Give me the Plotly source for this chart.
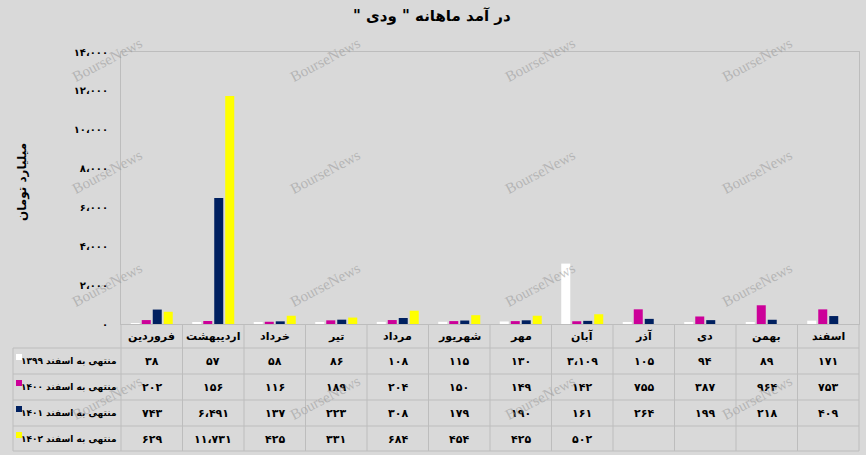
import plotly.graph_objects as go

# ---------------- data ----------------
months = ["فروردین", "اردیبهشت", "خرداد", "تیر", "مرداد", "شهریور",
          "مهر", "آبان", "آذر", "دی", "بهمن", "اسفند"]
s1399 = [38, 57, 58, 86, 108, 115, 130, 3109, 105, 94, 89, 171]
s1400 = [202, 156, 116, 189, 204, 150, 149, 142, 755, 387, 964, 753]
s1401 = [743, 6491, 137, 223, 308, 179, 190, 161, 264, 199, 218, 409]
s1402 = [629, 11731, 425, 331, 684, 454, 425, 502, None, None, None, None]
series_names = ["منتهی به اسفند ۱۳۹۹", "منتهی به اسفند ۱۴۰۰",
                "منتهی به اسفند ۱۴۰۱", "منتهی به اسفند ۱۴۰۲"]
series_colors = ["#FFFFFF", "#CC0099", "#002060", "#FFFF00"]
y_ticks = [0, 2000, 4000, 6000, 8000, 10000, 12000, 14000]
title_text = 'در آمد ماهانه " ودی "'
y_title = "میلیارد تومان"
watermark = "BourseNews"

series = [s1399, s1400, s1401, s1402]

FA = str.maketrans("0123456789,", "۰۱۲۳۴۵۶۷۸۹،")
RLM = "\u200f"


def to_fa(v):
    return format(v, ",").translate(FA)


# ---------------- geometry helpers (pixels -> paper) ----------------
W_, H_ = 866, 455
L, R, T, B = 121, 859, 52, 324
PW, PH = R - L, B - T


def px(X):
    return (X - L) / PW


def py(Y):
    return (B - Y) / PH


FONT = "DejaVu Sans"
fig = go.Figure()
for name, vals, col in zip(series_names, series, series_colors):
    fig.add_trace(go.Bar(x=months, y=vals, name=name, marker_color=col,
                         marker_line_width=0, showlegend=False))

shapes = []
annotations = []
grid = "#BDBDBD"
row_lines = [348, 374, 400, 426, 451]
# horizontal table lines
for yy in row_lines:
    shapes.append(dict(type="line", xref="paper", yref="paper", x0=px(13), x1=px(R),
                       y0=py(yy), y1=py(yy), line=dict(color=grid, width=1)))
# vertical table lines
shapes.append(dict(type="line", xref="paper", yref="paper", x0=px(13), x1=px(13),
                   y0=py(348), y1=py(451), line=dict(color=grid, width=1)))
colw = PW / len(months)
for k in range(len(months) + 1):
    xx = L + k * colw
    shapes.append(dict(type="line", xref="paper", yref="paper", x0=px(xx), x1=px(xx),
                       y0=py(B), y1=py(451), line=dict(color=grid, width=1)))

# header: month names
for m in months:
    annotations.append(dict(x=m, xref="x", y=py(336), yref="paper", text=m,
                            showarrow=False, xanchor="center", yanchor="middle",
                            font=dict(family=FONT, size=11, color="black", weight="bold")))

# rows
for i, (name, vals, col) in enumerate(zip(series_names, series, series_colors)):
    top = row_lines[i]
    cy = top + 13
    shapes.append(dict(type="rect", xref="paper", yref="paper", x0=px(16), x1=px(22),
                       y0=py(cy - 1), y1=py(cy - 7), fillcolor=col, line=dict(width=0)))
    annotations.append(dict(x=px(118), xref="paper", y=py(cy), yref="paper",
                            text=RLM + name + RLM,
                            showarrow=False, xanchor="right", yanchor="middle",
                            font=dict(family=FONT, size=9, color="black", weight="bold")))
    for m, v in zip(months, vals):
        if v is None:
            continue
        annotations.append(dict(x=m, xref="x", y=py(cy), yref="paper", text=to_fa(v),
                                showarrow=False, xanchor="center", yanchor="middle",
                                font=dict(family=FONT, size=11, color="black", weight="bold")))

# title and axis title
annotations.append(dict(x=px(432), xref="paper", y=py(16), yref="paper",
                        text=RLM + title_text + RLM,
                        showarrow=False, xanchor="center", yanchor="middle",
                        font=dict(family=FONT, size=15, color="black", weight="bold")))
annotations.append(dict(x=px(22), xref="paper", y=py(182), yref="paper", text=y_title,
                        showarrow=False, xanchor="center", yanchor="middle", textangle=-90,
                        font=dict(family=FONT, size=12, color="black", weight="bold")))

# watermarks
for wx in [107, 325, 540, 757]:
    for wy in [60, 172, 285, 398]:
        annotations.append(dict(x=px(wx), xref="paper", y=py(wy), yref="paper", text=watermark,
                                showarrow=False, xanchor="center", yanchor="middle",
                                textangle=-28,
                                font=dict(family="Liberation Serif", size=15,
                                          color="rgba(150,150,150,0.55)")))

fig.update_layout(
    width=W_, height=H_,
    margin=dict(l=L, r=W_ - R, t=T, b=H_ - B, pad=0),
    paper_bgcolor="#D9D9D9", plot_bgcolor="#D9D9D9",
    barmode="group", bargap=0.285, bargroupgap=0.18,
    shapes=shapes, annotations=annotations,
    xaxis=dict(showticklabels=False, ticks="", showgrid=False, zeroline=False,
               showline=True, mirror=True, linecolor=grid, linewidth=1),
    yaxis=dict(range=[0, 14000], tickvals=y_ticks, ticktext=[to_fa(v) for v in y_ticks],
               showgrid=False, zeroline=False, ticks="", ticklabelstandoff=10,
               showline=True, mirror=True, linecolor=grid, linewidth=1,
               tickfont=dict(family=FONT, size=10, color="black", weight="bold")),
)

fig.write_html("out.html", config={"displayModeBar": False},
               post_script="document.body.style.margin='0px';document.body.style.overflow='hidden';")
